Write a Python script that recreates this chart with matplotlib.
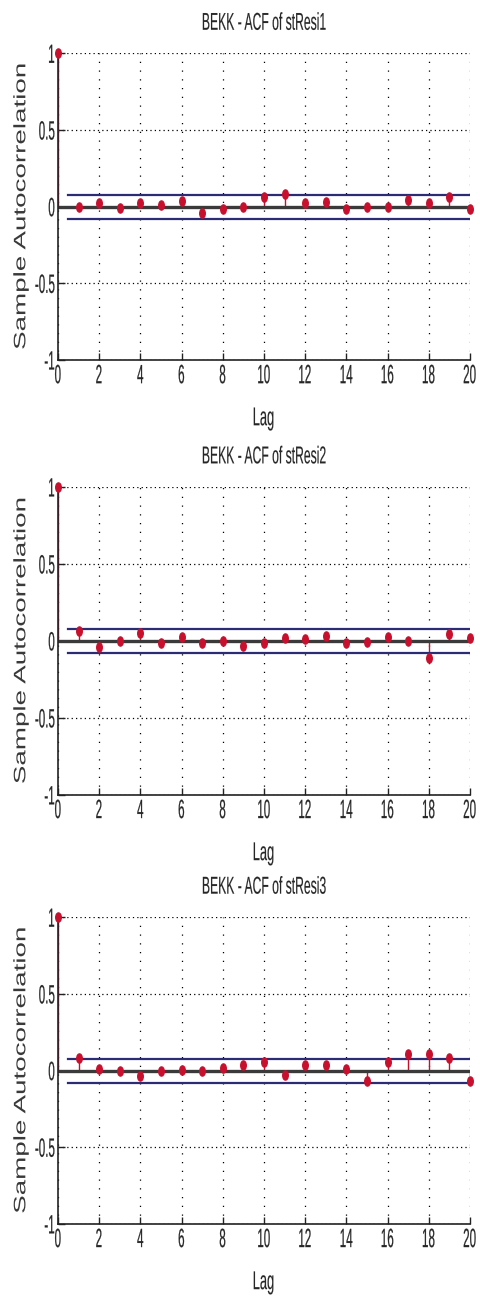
import matplotlib
matplotlib.use("Agg")
import matplotlib.pyplot as plt
from matplotlib.markers import MarkerStyle
from matplotlib.patheffects import AbstractPathEffect
from matplotlib.transforms import Affine2D
import numpy as np

# Sample autocorrelations of the standardized BEKK residuals, lags 0..20
lags = np.arange(0, 21)
acf_resi1 = [1.0, -0.002, 0.026, -0.006, 0.026, 0.010, 0.040, -0.040, -0.017, -0.002,
             0.065, 0.085, 0.026, 0.030, -0.013, -0.002, -0.002, 0.043, 0.026, 0.065, -0.017]
acf_resi2 = [1.0, 0.065, -0.039, 0.000, 0.054, -0.013, 0.028, -0.013, 0.000, -0.032,
             -0.011, 0.017, 0.015, 0.032, -0.013, -0.009, 0.028, 0.000, -0.108, 0.043, 0.017]
acf_resi3 = [1.0, 0.080, 0.011, 0.000, -0.037, 0.000, 0.002, 0.000, 0.015, 0.039,
             0.054, -0.028, 0.037, 0.039, 0.013, -0.065, 0.054, 0.110, 0.110, 0.080, -0.071]
series_names = ["stResi1", "stResi2", "stResi3"]
conf_bound = 0.078

x_ticks = list(range(0, 21, 2))
y_ticks = [-1, -0.5, 0, 0.5, 1]
y_tick_labels = ["-1", "-0.5", "0", "0.5", "1"]


class SqueezeX(AbstractPathEffect):
    """Draw text horizontally condensed about its left, centre or right edge,
    optionally with a thin outline in the text colour to darken the strokes."""

    def __init__(self, sx, anchor="center", stroke=0.0):
        super().__init__()
        self._sx = sx
        self._anchor = anchor
        self._stroke = stroke

    def draw_path(self, renderer, gc, tpath, affine, rgbFace=None):
        if len(tpath.vertices) == 0:
            return
        pts = affine.transform(tpath.vertices)
        if self._anchor == "right":
            cx = pts[:, 0].max()
        elif self._anchor == "left":
            cx = pts[:, 0].min()
        else:
            cx = 0.5 * (pts[:, 0].min() + pts[:, 0].max())
        squeeze = Affine2D().translate(-cx, 0).scale(self._sx, 1.0).translate(cx, 0)
        if self._stroke > 0 and rgbFace is not None:
            gc0 = renderer.new_gc()
            gc0.copy_properties(gc)
            gc0.set_linewidth(self._stroke)
            gc0.set_foreground(rgbFace)
            renderer.draw_path(gc0, tpath, affine + squeeze, rgbFace)
            gc0.restore()
        else:
            renderer.draw_path(gc, tpath, affine + squeeze, rgbFace)


plt.rcParams["font.family"] = ["Liberation Sans", "DejaVu Sans"]

fig = plt.figure(figsize=(4.8, 13.02), dpi=100)
# axes boxes in figure fractions: [left, bottom, width, height]
boxes = [[0.121, 0.7235, 0.858, 0.2355],
         [0.121, 0.3895, 0.858, 0.2365],
         [0.121, 0.0600, 0.858, 0.2355]]

stem_red = "#c8102e"
base_gray = "#3a3a3a"
bound_blue = "#2c2c75"
text_dark = "#262626"
dot_marker = MarkerStyle("o", transform=Affine2D().scale(1.0, 1.65))

for box, name, acf in zip(boxes, series_names, [acf_resi1, acf_resi2, acf_resi3]):
    ax = fig.add_axes(box)
    ax.set_xlim(lags[0], lags[-1])
    ax.set_ylim(-1, 1)
    ax.xaxis.grid(True, color="black", linestyle=(0, (1, 6)), linewidth=0.9)
    ax.yaxis.grid(True, color="black", linestyle=(0, (1, 2.5)), linewidth=0.9)
    ax.set_axisbelow(True)

    markerline, stemlines, baseline = ax.stem(lags, acf, linefmt="-", markerfmt="o", basefmt="-")
    stemlines.set_color(stem_red)
    stemlines.set_linewidth(1.0)
    markerline.set_marker(dot_marker)
    markerline.set_markersize(4.0)
    markerline.set_color(stem_red)
    markerline.set_clip_on(False)
    markerline.set_zorder(4)
    baseline.set_color(base_gray)
    baseline.set_linewidth(2.4)
    baseline.set_zorder(2)

    bx = [lags[1] - 0.5, lags[-1]]
    ax.plot(bx, [conf_bound, conf_bound], color=bound_blue, linewidth=1.6, zorder=3)
    ax.plot(bx, [-conf_bound, -conf_bound], color=bound_blue, linewidth=1.6, zorder=3)

    for side in ("top", "right"):
        ax.spines[side].set_visible(False)
    for side in ("left", "bottom"):
        ax.spines[side].set_color("#222222")
        ax.spines[side].set_linewidth(1.2)

    ax.set_xticks(x_ticks)
    ax.set_yticks(y_ticks)
    ax.set_yticklabels(y_tick_labels)
    ax.tick_params(direction="in", length=5, width=1, colors="#222222",
                   labelcolor=text_dark, labelsize=19, top=False, right=False)
    ax.tick_params(axis="x", pad=3)
    ax.tick_params(axis="y", pad=2)
    for tick in ax.xaxis.get_major_ticks():
        tick.label1.set_path_effects([SqueezeX(0.44, "center", stroke=0.15)])
    for tick in ax.yaxis.get_major_ticks():
        tick.label1.set_path_effects([SqueezeX(0.44, "right", stroke=0.15)])

    title = ax.set_title(f"BEKK - ACF of {name}", fontsize=17.5, color=text_dark, pad=17)
    title.set_path_effects([SqueezeX(0.5, "center", stroke=0.1)])
    xlab = ax.set_xlabel("Lag", fontsize=18.5, color=text_dark, labelpad=13)
    xlab.set_path_effects([SqueezeX(0.5, "center", stroke=0.1)])
    ylab = ax.set_ylabel("Sample Autocorrelation", fontsize=20, color="#3a3a3a")
    ylab.set_path_effects([SqueezeX(0.6, "center")])
    ax.yaxis.set_label_coords(-0.058, 0.5)

fig.savefig("out.png", dpi=100)
